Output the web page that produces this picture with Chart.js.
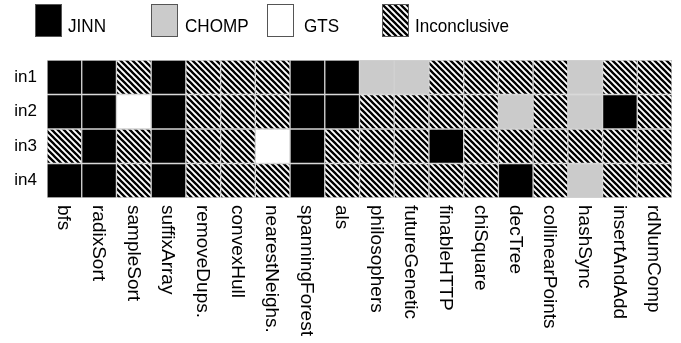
<!DOCTYPE html>
<html lang="en">
<head>
  <meta charset="UTF-8">
  <title>Results per benchmark</title>
  <script src="https://cdn.jsdelivr.net/npm/chart.js"></script>
  <style>
    body { margin: 0; background: #fff; }
    canvas { display: block; }
  </style>
</head>
<body>
  <canvas id="grid" width="681" height="343"></canvas>

  <script>
    const benchmarks = ["bfs", "radixSort", "sampleSort", "suffixArray", "removeDups.", "convexHull",
      "nearestNeighs.", "spanningForest", "als", "philosophers", "futureGenetic", "finableHTTP",
      "chiSquare", "decTree", "collinearPoints", "hashSync", "insertAndAdd", "rdNumComp"];
    const inputs = ["in1", "in2", "in3", "in4"];
    const outcomes = ["JINN", "CHOMP", "GTS", "Inconclusive"];

    // J = JINN, C = CHOMP, G = GTS, I = Inconclusive
    const in1 = ["J","J","I","J","I","I","I","J","J","C","C","I","I","I","I","C","I","I"];
    const in2 = ["J","J","G","J","I","I","I","J","J","I","I","I","I","C","I","C","J","I"];
    const in3 = ["I","J","I","J","I","I","G","J","I","I","I","J","I","I","I","I","I","I"];
    const in4 = ["J","J","I","J","I","I","I","J","I","I","I","I","I","J","I","C","I","I"];
    const rows = [in1, in2, in3, in4];

    function makeHatch() {
      const c = document.createElement("canvas");
      c.width = 6; c.height = 6;
      const g = c.getContext("2d");
      g.fillStyle = "#fff";
      g.fillRect(0, 0, 6, 6);
      g.strokeStyle = "#000";
      g.lineWidth = 2.3;
      g.beginPath();
      for (let k = -1; k <= 1; k++) {
        g.moveTo(k * 6 - 1, -1);
        g.lineTo(k * 6 + 7, 7);
      }
      g.stroke();
      return g.createPattern(c, "repeat");
    }

    const hatch = makeHatch();
    const fills = { J: "#000000", C: "#cbcbcb", G: "#ffffff", I: hatch };
    const legendFills = [fills.J, fills.C, fills.G, fills.I];

    // legend boxes and rotated benchmark names
    const decorations = {
      id: "decorations",
      afterDraw(chart) {
        const ctx = chart.ctx;
        ctx.save();
        const boxX = [35, 151, 267, 382];
        const textX = [68, 185, 304, 415];
        ctx.font = "19px 'Liberation Sans', Arial, sans-serif";
        ctx.textBaseline = "alphabetic";
        ctx.textAlign = "left";
        outcomes.forEach((name, i) => {
          ctx.fillStyle = legendFills[i];
          ctx.fillRect(boxX[i], 4, 27, 33);
          ctx.strokeStyle = "#555";
          ctx.lineWidth = 1;
          ctx.strokeRect(boxX[i] + 0.5, 4.5, 26, 32);
          ctx.fillStyle = "#000";
          ctx.save();
          ctx.translate(textX[i], 32);
          ctx.scale(0.9, 1);
          ctx.fillText(name, 0, 0);
          ctx.restore();
        });

        const xs = chart.scales.x;
        ctx.font = "19px 'Liberation Sans', Arial, sans-serif";
        ctx.textBaseline = "middle";
        benchmarks.forEach((b, i) => {
          const x = xs.getPixelForTick(i);
          ctx.save();
          ctx.translate(x - 1, chart.chartArea.bottom + 7);
          ctx.rotate(Math.PI / 2);
          ctx.fillStyle = "#000";
          ctx.fillText(b, 0, 0);
          ctx.restore();
        });
        ctx.restore();
      }
    };

    new Chart(document.getElementById("grid"), {
      type: "bar",
      data: {
        labels: benchmarks,
        datasets: rows.map((r, i) => ({
          label: inputs[i],
          data: r.map(() => [i, i + 1]),
          backgroundColor: r.map(s => fills[s]),
          borderColor: "#d2d2d2",
          borderWidth: 1,
          borderSkipped: false,
          grouped: false,
          categoryPercentage: 1,
          barPercentage: 1
        }))
      },
      options: {
        responsive: false,
        animation: false,
        layout: { padding: { left: 0, top: 60, right: 9, bottom: 145 } },
        plugins: { legend: { display: false }, tooltip: { enabled: false } },
        scales: {
          x: {
            grid: { display: false, drawTicks: false },
            border: { display: false },
            ticks: { display: false },
            afterFit: s => { s.height = 0; }
          },
          y: {
            min: 0,
            max: 4,
            reverse: true,
            grid: { display: false, drawTicks: false },
            border: { display: false },
            afterBuildTicks: s => { s.ticks = inputs.map((r, i) => ({ value: i + 0.5 })); },
            afterFit: s => { s.width = 47; },
            ticks: {
              padding: 10,
              color: "#000",
              font: { family: "'Liberation Sans', Arial, sans-serif", size: 17 },
              callback: (v, i) => inputs[i]
            }
          }
        }
      },
      plugins: [decorations]
    });
  </script>
</body>
</html>
